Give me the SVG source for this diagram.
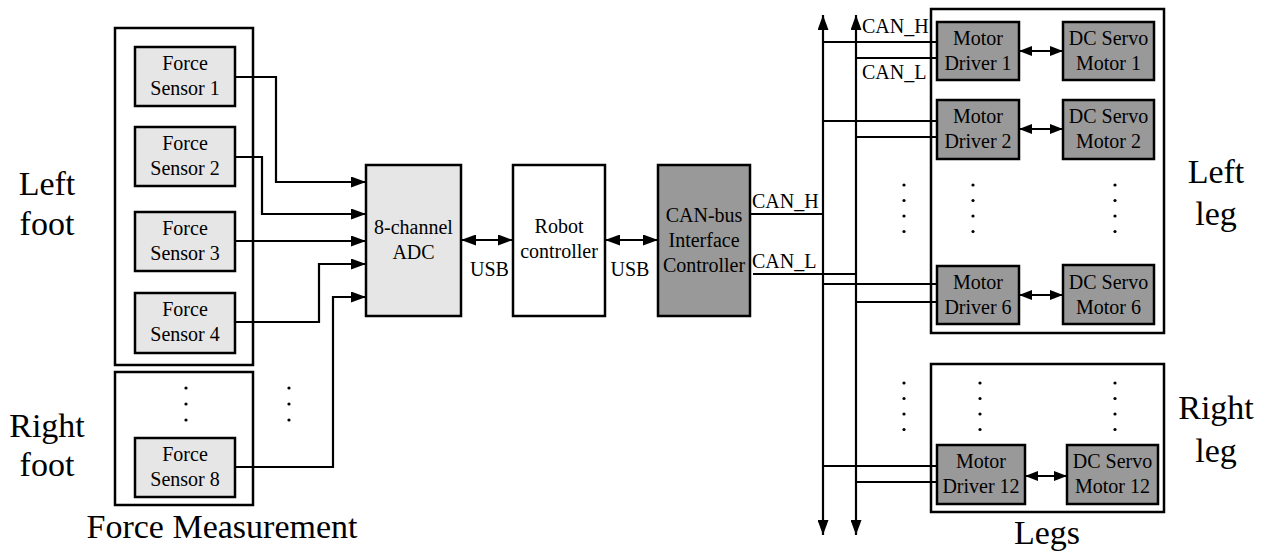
<svg xmlns="http://www.w3.org/2000/svg" width="1267" height="556" viewBox="0 0 1267 556" font-family="Liberation Serif, Times New Roman, serif">
<style>
text{font-family:"Liberation Serif","Times New Roman",serif;fill:#000;text-anchor:middle}
.t{font-size:20px}
.big{font-size:34px}
.grp{fill:none;stroke:#000;stroke-width:2.5}
.lt{fill:#e6e6e6;stroke:#000;stroke-width:2.5}
.dk{fill:#999;stroke:#000;stroke-width:2.5}
.wh{fill:#fff;stroke:#000;stroke-width:2.5}
.w{fill:none;stroke:#000;stroke-width:2.2}
.a{marker-end:url(#ah)}
.b{marker-start:url(#ah);marker-end:url(#ah)}
.s{marker-start:url(#sh);marker-end:url(#sh)}
.dot{fill:#000}
</style>
<defs>
<marker id="ah" markerUnits="userSpaceOnUse" markerWidth="15" markerHeight="11" refX="15" refY="5.5" orient="auto-start-reverse"><path d="M0,0 L15,5.5 L0,11 z" fill="#000"/></marker>
<marker id="sh" markerUnits="userSpaceOnUse" markerWidth="13" markerHeight="10" refX="13" refY="5" orient="auto-start-reverse"><path d="M0,0 L13,5 L0,10 z" fill="#000"/></marker>
<g id="dots"><circle cx="0" cy="0" r="1.6"/><circle cx="0" cy="16" r="1.6"/><circle cx="0" cy="32" r="1.6"/></g>
<g id="dots4"><circle cx="0" cy="0" r="1.6"/><circle cx="0" cy="15.5" r="1.6"/><circle cx="0" cy="31" r="1.6"/><circle cx="0" cy="46.5" r="1.6"/></g>
</defs>

<g id="group-left-foot"><rect class="grp" x="115" y="28" width="138" height="337"/></g>
<g id="group-right-foot"><rect class="grp" x="115" y="372" width="138" height="133"/></g>
<g id="group-left-leg"><rect class="grp" x="931" y="9" width="233" height="324"/></g>
<g id="group-right-leg"><rect class="grp" x="931" y="364" width="233" height="148"/></g>

<g id="connectors">
<polyline class="w a" points="235,77 276,77 276,182 366,182"/>
<polyline class="w a" points="235,157 262,157 262,214 366,214"/>
<polyline class="w a" points="235,241 366,241"/>
<polyline class="w a" points="235,322 319,322 319,264 366,264"/>
<polyline class="w a" points="235,467 333,467 333,297 366,297"/>
<line class="w b" x1="461" y1="240" x2="513" y2="240"/>
<line class="w b" x1="605" y1="240" x2="658" y2="240"/>
<line class="w b" x1="823" y1="15" x2="823" y2="535"/>
<line class="w b" x1="856" y1="15" x2="856" y2="535"/>
<line class="w" x1="750" y1="214" x2="823" y2="214"/>
<line class="w" x1="753" y1="274" x2="856" y2="274"/>
<line class="w" x1="823" y1="42" x2="937" y2="42"/>
<line class="w" x1="856" y1="58" x2="937" y2="58"/>
<line class="w" x1="823" y1="121" x2="937" y2="121"/>
<line class="w" x1="856" y1="137" x2="937" y2="137"/>
<line class="w" x1="823" y1="284" x2="937" y2="284"/>
<line class="w" x1="856" y1="302" x2="937" y2="302"/>
<line class="w" x1="823" y1="466" x2="937" y2="466"/>
<line class="w" x1="856" y1="482" x2="937" y2="482"/>
<line class="w s" x1="1019" y1="51" x2="1063" y2="51"/>
<line class="w s" x1="1019" y1="129" x2="1063" y2="129"/>
<line class="w s" x1="1019" y1="295" x2="1063" y2="295"/>
<line class="w s" x1="1025" y1="476" x2="1067" y2="476"/>
</g>

<g id="sensor1"><rect class="lt" x="135" y="47" width="100" height="59"/><text class="t" x="185" y="70">Force</text><text class="t" x="185" y="95">Sensor 1</text></g>
<g id="sensor2"><rect class="lt" x="135" y="127" width="100" height="59"/><text class="t" x="185" y="150">Force</text><text class="t" x="185" y="175">Sensor 2</text></g>
<g id="sensor3"><rect class="lt" x="135" y="212" width="100" height="59"/><text class="t" x="185" y="235">Force</text><text class="t" x="185" y="260">Sensor 3</text></g>
<g id="sensor4"><rect class="lt" x="135" y="293" width="100" height="60"/><text class="t" x="185" y="316">Force</text><text class="t" x="185" y="341">Sensor 4</text></g>
<g id="sensor8"><rect class="lt" x="135" y="438" width="100" height="59"/><text class="t" x="185" y="461">Force</text><text class="t" x="185" y="486">Sensor 8</text></g>

<g id="adc"><rect class="lt" x="366" y="165" width="95" height="151"/><text class="t" x="413.5" y="234">8-channel</text><text class="t" x="413.5" y="259">ADC</text></g>
<g id="robot"><rect class="wh" x="513" y="165" width="92" height="151"/><text class="t" x="559" y="233">Robot</text><text class="t" x="559" y="258">controller</text></g>
<g id="canbus"><rect class="dk" x="658" y="165" width="92" height="151"/><text class="t" x="704" y="222">CAN-bus</text><text class="t" x="704" y="247">Interface</text><text class="t" x="704" y="272">Controller</text></g>

<g id="driver1"><rect class="dk" x="937" y="22" width="82" height="58"/><text class="t" x="978" y="45">Motor</text><text class="t" x="978" y="70">Driver 1</text></g>
<g id="driver2"><rect class="dk" x="937" y="100" width="82" height="59"/><text class="t" x="978" y="123">Motor</text><text class="t" x="978" y="148">Driver 2</text></g>
<g id="driver6"><rect class="dk" x="937" y="266" width="82" height="58"/><text class="t" x="978" y="289">Motor</text><text class="t" x="978" y="314">Driver 6</text></g>
<g id="driver12"><rect class="dk" x="937" y="445" width="88" height="59"/><text class="t" x="981" y="468">Motor</text><text class="t" x="981" y="493">Driver 12</text></g>
<g id="motor1"><rect class="dk" x="1063" y="22" width="91" height="58"/><text class="t" x="1108.5" y="45">DC Servo</text><text class="t" x="1108.5" y="70">Motor 1</text></g>
<g id="motor2"><rect class="dk" x="1063" y="100" width="91" height="59"/><text class="t" x="1108.5" y="123">DC Servo</text><text class="t" x="1108.5" y="148">Motor 2</text></g>
<g id="motor6"><rect class="dk" x="1063" y="265" width="91" height="59"/><text class="t" x="1108.5" y="289">DC Servo</text><text class="t" x="1108.5" y="314">Motor 6</text></g>
<g id="motor12"><rect class="dk" x="1067" y="445" width="91" height="59"/><text class="t" x="1112.5" y="468">DC Servo</text><text class="t" x="1112.5" y="493">Motor 12</text></g>

<g id="labels">
<text class="t" x="489.5" y="276">USB</text>
<text class="t" x="630" y="276">USB</text>
<text class="t" x="752" y="208" style="text-anchor:start">CAN_H</text>
<text class="t" x="752" y="268" style="text-anchor:start">CAN_L</text>
<text class="t" x="862" y="33" style="text-anchor:start">CAN_H</text>
<text class="t" x="862" y="79" style="text-anchor:start">CAN_L</text>
<text class="big" x="47" y="195">Left</text>
<text class="big" x="47" y="235">foot</text>
<text class="big" x="47" y="437">Right</text>
<text class="big" x="47" y="476">foot</text>
<text class="big" x="222" y="538">Force Measurement</text>
<text class="big" x="1216" y="183">Left</text>
<text class="big" x="1216" y="225">leg</text>
<text class="big" x="1216" y="419">Right</text>
<text class="big" x="1216" y="462">leg</text>
<text class="big" x="1047" y="544">Legs</text>
</g>

<g id="ellipses" class="dot">
<use href="#dots" x="186" y="388"/>
<use href="#dots" x="289" y="388"/>
<use href="#dots4" x="904" y="185"/>
<use href="#dots4" x="973" y="185"/>
<use href="#dots4" x="1115" y="185"/>
<use href="#dots4" x="904" y="383"/>
<use href="#dots4" x="980" y="383"/>
<use href="#dots4" x="1115" y="383"/>
</g>
</svg>
